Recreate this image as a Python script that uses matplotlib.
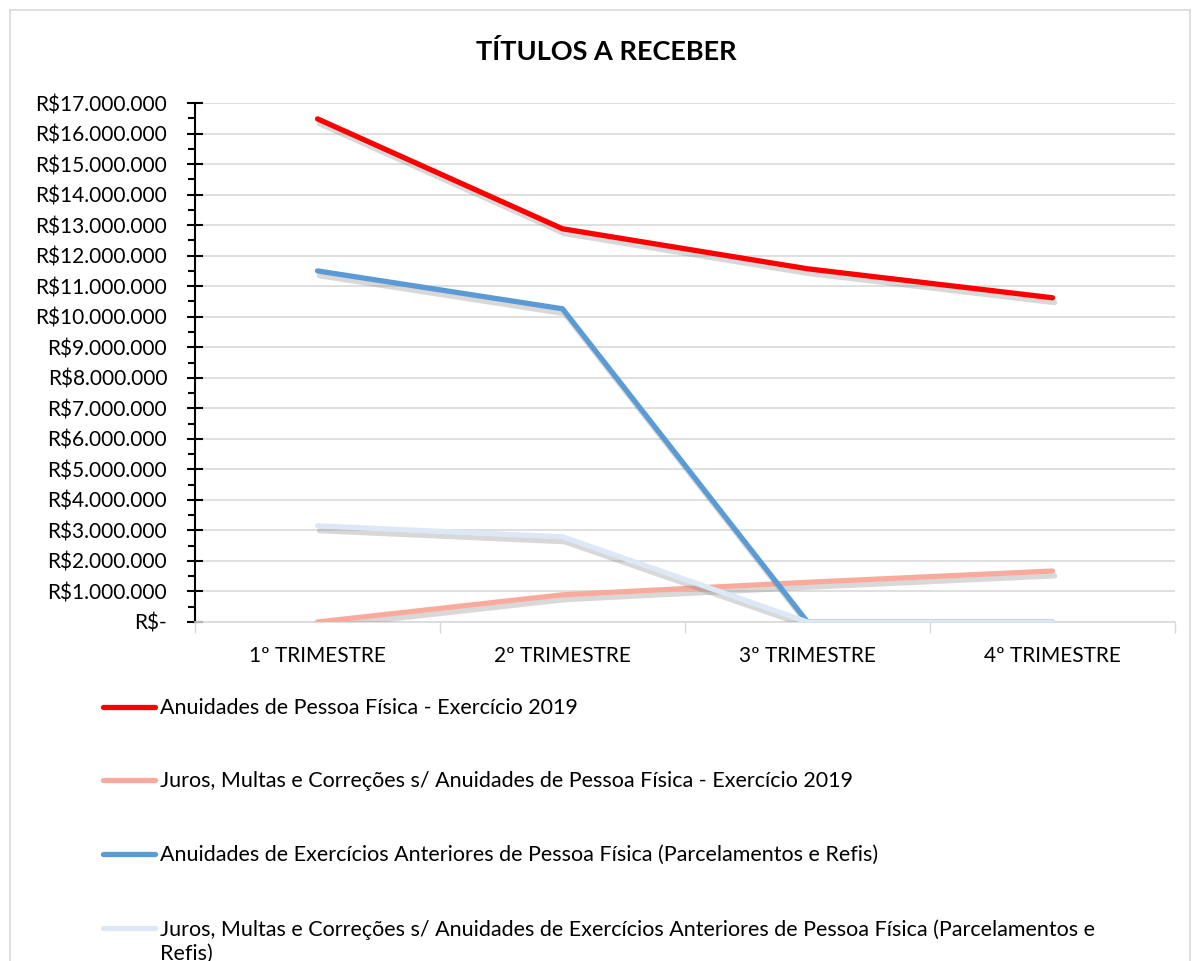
import numpy as np
import matplotlib
matplotlib.use("Agg")
import matplotlib.pyplot as plt
import matplotlib.patheffects as pe
from matplotlib.lines import Line2D
from matplotlib.patches import Rectangle
from matplotlib.ticker import FuncFormatter, MultipleLocator

plt.rcParams['font.family'] = ['Lato', 'DejaVu Sans']

# Dados
trimestres = ['1º TRIMESTRE', '2º TRIMESTRE', '3º TRIMESTRE', '4º TRIMESTRE']
anuidades_2019 = [16480000, 12880000, 11570000, 10620000]
juros_2019 = [0, 890000, 1300000, 1670000]
anuidades_anteriores = [11500000, 10260000, 0, 0]
juros_anteriores = [3150000, 2790000, 0, 0]

nomes = [
    'Anuidades de Pessoa Física - Exercício 2019',
    'Juros, Multas e Correções s/ Anuidades de Pessoa Física - Exercício 2019',
    'Anuidades de Exercícios Anteriores de Pessoa Física (Parcelamentos e Refis)',
    'Juros, Multas e Correções s/ Anuidades de Exercícios Anteriores de Pessoa Física (Parcelamentos e\nRefis)',
]
cores = ['#FF0000', '#F8AA9C', '#5B9BD5', '#DCE8F5']
series = [anuidades_2019, juros_2019, anuidades_anteriores, juros_anteriores]

W, H = 1193, 961
fig = plt.figure(figsize=(W / 100, H / 100), dpi=100)

# moldura do gráfico
fig.patches.append(Rectangle((10 / W, -0.1), 1180 / W, 1 - 10 / H + 0.1,
                             transform=fig.transFigure, fill=False,
                             edgecolor='#D9D9D9', linewidth=1.2))

ax = fig.add_axes([195 / W, 1 - 622 / H, 980 / W, 519 / H])
x = np.arange(len(trimestres))

sombra = [pe.SimpleLineShadow(offset=(1.5, -3.5), shadow_color='#7F7F7F', alpha=0.3),
          pe.Normal()]
for vals, cor in zip(series, cores):
    ax.plot(x, vals, color=cor, linewidth=3.8, solid_capstyle='round',
            solid_joinstyle='round', path_effects=sombra, zorder=3)

ax.set_xlim(-0.5, 3.5)
ax.set_ylim(0, 17000000)

def fmt_real(v, pos):
    if abs(v) < 1:
        return r'R\$-'
    return r'R\$' + f'{v:,.0f}'.replace(',', '.')

ax.yaxis.set_major_locator(MultipleLocator(1000000))
ax.yaxis.set_minor_locator(MultipleLocator(500000))
ax.yaxis.set_major_formatter(FuncFormatter(fmt_real))
ax.tick_params(axis='y', which='major', direction='inout', length=12, width=1.5,
               color='black', labelsize=15, pad=14)
ax.tick_params(axis='y', which='minor', direction='out', length=5, width=1.5, color='black')

ax.set_xticks(x)
ax.set_xticklabels(trimestres)
ax.set_xticks(np.arange(-0.5, 4.0, 1.0), minor=True)
ax.tick_params(axis='x', which='major', length=0, labelsize=15, pad=17)
ax.tick_params(axis='x', which='minor', direction='out', length=8, color='#D9D9D9', width=1)

ax.grid(axis='y', which='major', color='#D9D9D9', linewidth=1.2, zorder=0)
ax.set_axisbelow(True)
for s in ['top', 'right']:
    ax.spines[s].set_visible(False)
ax.spines['left'].set_color('black')
ax.spines['left'].set_linewidth(1.5)
ax.spines['bottom'].set_color('#D9D9D9')
ax.spines['bottom'].set_linewidth(1.2)

fig.text(606 / W, 1 - 52 / H, 'TÍTULOS A RECEBER', ha='center', va='center',
         fontsize=19.5, fontweight='bold')

# legenda
linhas_y = [707, 780, 854, 928]
for nome, cor, yy in zip(nomes, cores, linhas_y):
    fig.lines.append(Line2D([103 / W, 155 / W], [1 - yy / H, 1 - yy / H],
                            transform=fig.transFigure, color=cor, linewidth=3.8,
                            solid_capstyle='round'))
    fig.text(160 / W, 1 - (yy - 9) / H, nome, ha='left', va='top',
             fontsize=15.5, linespacing=1.25)

fig.savefig('out.png', dpi=100)
